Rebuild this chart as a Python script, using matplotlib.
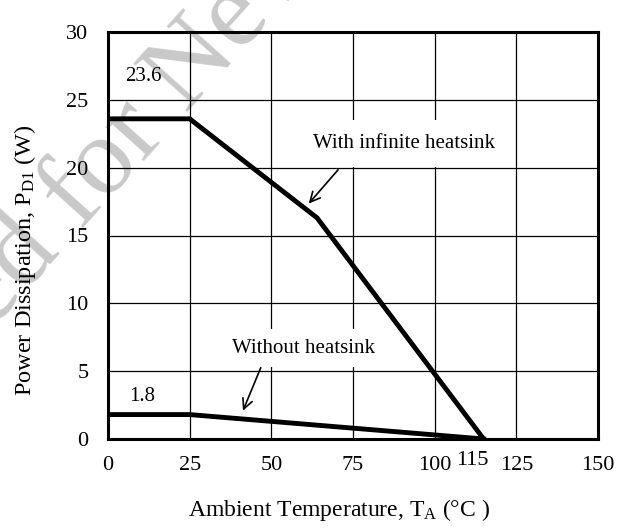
import matplotlib
matplotlib.use("Agg")
import matplotlib.pyplot as plt

plt.rcParams['font.family'] = ['Liberation Serif', 'DejaVu Serif']
plt.rcParams['mathtext.fontset'] = 'custom'
plt.rcParams['mathtext.rm'] = 'Liberation Serif'
plt.rcParams['mathtext.it'] = 'Liberation Serif:italic'

# Data
temp_inf = [0, 25, 64, 115]
power_inf = [23.6, 23.6, 16.3, 0]
temp_no = [0, 25, 115]
power_no = [1.8, 1.8, 0]
xticks = [0, 25, 50, 75, 100, 125, 150]
xticklabels = ['0', '25', '50', '75', '100', '125', '150']
yticks = [0, 5, 10, 15, 20, 25, 30]

W, H = 625, 531
fig = plt.figure(figsize=(W / 100, H / 100), dpi=100)
ax = fig.add_axes([108 / W, 1 - 439 / H, (598 - 108) / W, (439 - 32) / H])
ax.set_zorder(2)

# watermark (behind everything)
wm = dict(fontsize=80, color='#c9c9c9', rotation=48, va='baseline',
          rotation_mode='anchor', zorder=0)
fig.text(62 / W, 1 - 252 / H, 'Not Recommended', ha='right', **wm)
fig.text(62 / W, 1 - 252 / H, ' for New Design', ha='left', **wm)
ax.set_facecolor('none')

ax.set_xlim(0, 150)
ax.set_ylim(0, 30)
ax.set_xticks(xticks)
ax.set_yticks(yticks)
ax.set_xticklabels(xticklabels)
ax.tick_params(length=0, labelsize=16)
ax.tick_params(axis='x', pad=12)
ax.tick_params(axis='y', pad=14)
ax.grid(True, color='black', linewidth=0.9)
ax.set_axisbelow(True)
for s in ax.spines.values():
    s.set_linewidth(2.2)

ax.plot(temp_inf, power_inf, color='black', linewidth=3.5, zorder=3, solid_joinstyle='round')
ax.plot(temp_no, power_no, color='black', linewidth=3.5, zorder=3)

ax.text(111.5, -1.6, '115', ha='center', va='center', fontsize=16)

ax.text(10.7, 26.7, '23.6', ha='center', va='center', fontsize=15)
ax.text(10.4, 3.1, '1.8', ha='center', va='center', fontsize=15)

ax.text(62.7, 21.8, 'With infinite heatsink', ha='left', va='center', fontsize=15,
        bbox=dict(facecolor='white', edgecolor='none', pad=10), zorder=4)
ax.text(38.0, 6.7, 'Without heatsink', ha='left', va='center', fontsize=15,
        bbox=dict(facecolor='white', edgecolor='none', pad=7), zorder=4)

ax.annotate('', xy=(60.9, 17.2), xytext=(71.0, 20.0),
            arrowprops=dict(arrowstyle='->', color='black', lw=1.2, mutation_scale=18), zorder=5)
ax.annotate('', xy=(41.0, 1.9), xytext=(47.1, 5.45),
            arrowprops=dict(arrowstyle='->', color='black', lw=1.2, mutation_scale=18), zorder=5)

fig.text(339 / W, 1 - 510 / H, r'Ambient Temperature, T$_{\rm A}$ (°C )', fontsize=17,
         ha='center', va='center', zorder=3)
fig.text(25 / W, 1 - 260 / H, r'Power Dissipation, P$_{\rm D1}$ (W)', fontsize=17.5,
         ha='center', va='center', rotation=90, zorder=3)

fig.savefig('out.png', dpi=100)
